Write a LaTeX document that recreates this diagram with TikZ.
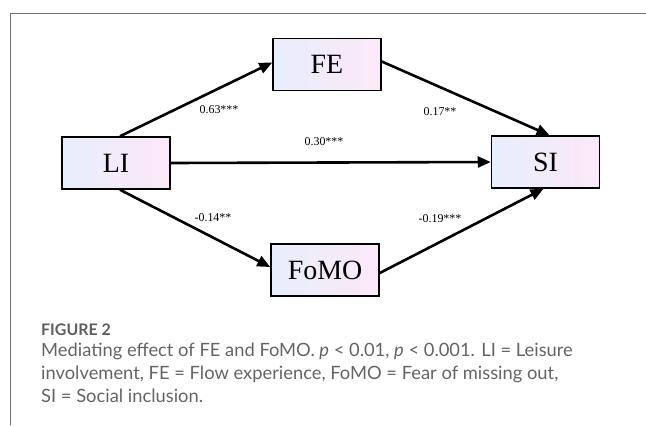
\documentclass[tikz,border=0pt]{standalone}
\usepackage{fontspec}
\setmainfont{Liberation Serif}
\newfontfamily\capfont{Lato}
\usetikzlibrary{arrows.meta}
\definecolor{framegray}{HTML}{70707A}
\definecolor{capgray}{HTML}{646464}
\definecolor{boxleft}{HTML}{E8EEFC}
\definecolor{boxright}{HTML}{FCE8F8}

\begin{document}
\begin{tikzpicture}[x=1bp,y=-1bp,
  var/.style={draw=black, line width=1.5bp, left color=boxleft, right color=boxright,
    minimum width=108bp, minimum height=52bp, inner sep=0pt,
    font=\fontsize{28}{30}\selectfont},
  effect/.style={line width=2.6bp, -{Triangle[length=13bp,width=11bp]}},
  coef/.style={inner sep=0pt, font=\fontsize{12}{14}\selectfont},
  capline/.style={anchor=base west, inner sep=0pt, text=capgray,
    font=\capfont\fontsize{18.4}{23}\selectfont}]

% canvas
\fill[white] (0,0) rectangle (646,425);
\useasboundingbox (0,0) rectangle (646,425);
\draw[framegray, line width=1bp] (10,425) -- (10,13) -- (646,13);

% variables
\node[var] (LI)   at (116,163)   {LI};
\node[var] (FE)   at (327,64.5)  {FE};
\node[var] (FoMO) at (325,270)   {FoMO};
\node[var] (SI)   at (545.5,162) {SI};

% paths
\draw[effect] ([xshift=4bp]LI.north) -- ([yshift=2bp]FE.west);
\draw[effect] ([yshift=3bp]FE.east) -- ([xshift=4bp]SI.north);
\draw[effect] (LI.east) -- (SI.west);
\draw[effect] ([xshift=4bp]LI.south) -- ([yshift=3bp]FoMO.west);
\draw[effect] ([yshift=-3bp]FoMO.east) -- ([xshift=-2bp]SI.south);

% coefficients
\node[coef] (c1) at (219,110) {0.63***};
\node[coef] (c2) at (440,112) {0.17**};
\node[coef] (c3) at (324,142) {0.30***};
\node[coef] (c4) at (213,218) {-0.14**};
\node[coef] (c5) at (440,219) {-0.19***};

% caption
\node[capline, text=capgray!95!black, font=\capfont\bfseries\fontsize{16}{18}\selectfont] (fig) at (41,335) {FIGURE 2};
\node[capline] (cap1) at (41,356) {Mediating effect of FE and FoMO. \textit{p} < 0.01, \textit{p} < 0.001. LI = Leisure};
\node[capline] (cap2) at (41,379) {involvement, FE = Flow experience, FoMO = Fear of missing out,};
\node[capline] (cap3) at (41,402) {SI = Social inclusion.};
\end{tikzpicture}
\end{document}
